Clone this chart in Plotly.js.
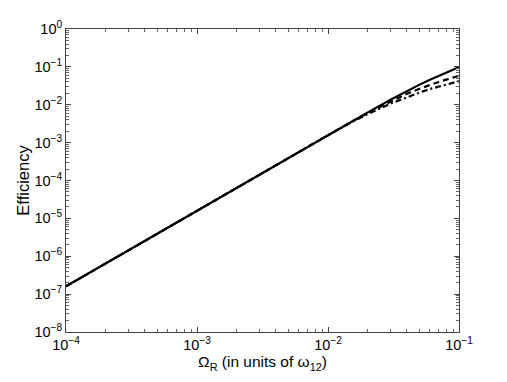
<!DOCTYPE html>
<html>
<head>
<meta charset="utf-8">
<script src="https://cdn.plot.ly/plotly-3.0.1.min.js"></script>
<style>
  html, body { margin: 0; padding: 0; background: #fff; }
  #chartDiv { width: 507px; height: 382px; }
</style>
</head>
<body>
<div id="chartDiv"></div>
<script>
// Rabi frequency values (units of w12)
var omegaR = [1e-4, 2e-4, 5e-4, 1e-3, 2e-3, 5e-3, 1e-2, 1.5e-2, 2e-2, 3e-2, 4e-2, 5e-2, 6e-2, 7e-2, 8e-2, 9e-2, 1e-1];
// efficiency curves (solid, dashed, dash-dot)
var effSolid   = [1.6e-7, 6.4e-7, 4.0e-6, 1.6e-5, 6.4e-5, 4.0e-4, 1.6e-3, 3.55e-3, 6.2e-3, 1.35e-2, 2.3e-2, 3.4e-2, 4.6e-2, 5.7e-2, 7.0e-2, 8.4e-2, 1.0e-1];
var effDashed  = [1.6e-7, 6.4e-7, 4.0e-6, 1.6e-5, 6.4e-5, 4.0e-4, 1.6e-3, 3.5e-3, 6.0e-3, 1.22e-2, 1.95e-2, 2.65e-2, 3.35e-2, 4.0e-2, 4.6e-2, 5.2e-2, 5.8e-2];
var effDashDot = [1.6e-7, 6.4e-7, 4.0e-6, 1.6e-5, 6.4e-5, 4.0e-4, 1.58e-3, 3.4e-3, 5.6e-3, 1.07e-2, 1.6e-2, 2.1e-2, 2.6e-2, 3.0e-2, 3.4e-2, 3.8e-2, 4.2e-2];

// tick values and labels
var xTickVals = [1e-4, 1e-3, 1e-2, 1e-1];
var xTickText = ['10<sup>\u22124</sup>', '10<sup>\u22123</sup>', '10<sup>\u22122</sup>', '10<sup>\u22121</sup>'];
var yTickVals = [1e-8, 1e-7, 1e-6, 1e-5, 1e-4, 1e-3, 1e-2, 1e-1, 1];
var yTickText = ['10<sup>\u22128</sup>', '10<sup>\u22127</sup>', '10<sup>\u22126</sup>', '10<sup>\u22125</sup>',
                 '10<sup>\u22124</sup>', '10<sup>\u22123</sup>', '10<sup>\u22122</sup>', '10<sup>\u22121</sup>', '10<sup>0</sup>'];

var data = [];
function addCurve(y, dash) {
    data.push({
        x: omegaR,
        y: y,
        mode: 'lines',
        type: 'scatter',
        line: { color: '#000', width: 2.2, dash: dash },
        showlegend: false,
        hoverinfo: 'none'
    });
}
addCurve(effDashDot, '6px,3px,2px,3px');
addCurve(effDashed, '6px,4px');
addCurve(effSolid, 'solid');

var fontFam = '"Liberation Sans", Arial, Helvetica, sans-serif';
var axisCommon = {
    type: 'log',
    showgrid: false,
    zeroline: false,
    showline: true,
    linecolor: '#444',
    linewidth: 1,
    mirror: 'ticks',
    ticks: 'inside',
    ticklen: 5,
    tickcolor: '#444',
    tickmode: 'array',
    tickfont: { family: fontFam, size: 14.5, color: '#000' },
    minor: { tickmode: 'linear', dtick: 'D1', ticks: 'inside', ticklen: 3, tickcolor: '#666', showgrid: false }
};

var layout = {
    width: 507,
    height: 382,
    margin: { l: 66, r: 48, t: 29, b: 50 },
    paper_bgcolor: '#fff',
    plot_bgcolor: '#fff',
    font: { family: fontFam, color: '#000' },
    xaxis: Object.assign({}, axisCommon, {
        range: [-4, -1],
        tickvals: xTickVals,
        ticktext: xTickText,
        title: { text: 'Ω<sub>R</sub> (in units of ω<sub>12</sub>)', font: { family: fontFam, size: 15.5 }, standoff: 3 }
    }),
    yaxis: Object.assign({}, axisCommon, {
        range: [-8, 0],
        tickvals: yTickVals,
        ticktext: yTickText,
        title: { text: 'Efficiency', font: { family: fontFam, size: 16.5 }, standoff: 0 }
    })
};

Plotly.newPlot('chartDiv', data, layout, { displayModeBar: false, staticPlot: true });
</script>
</body>
</html>
